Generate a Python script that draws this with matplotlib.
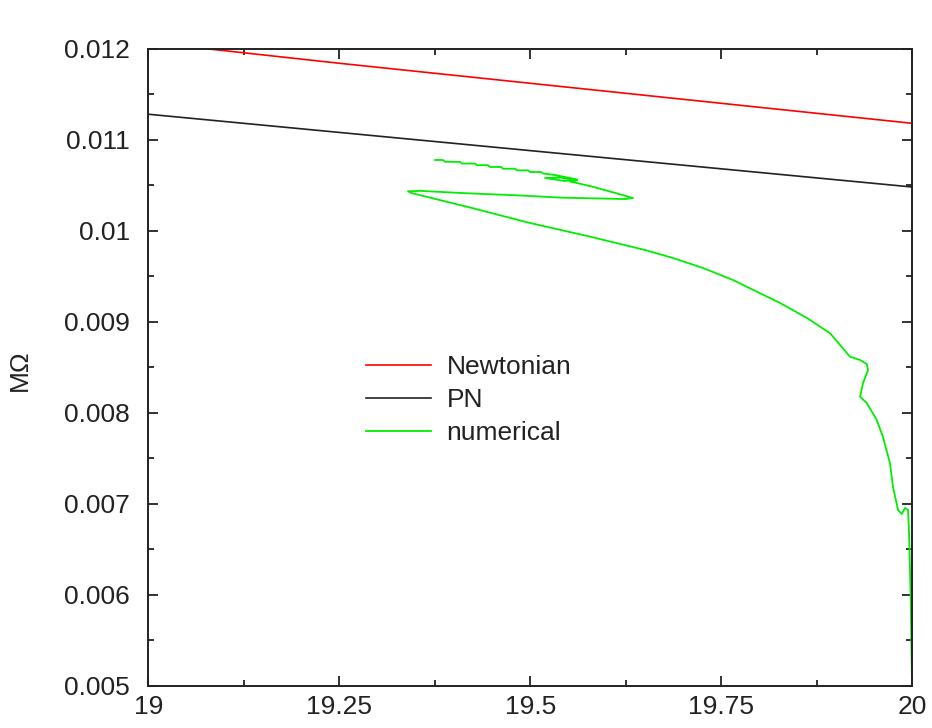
import matplotlib
matplotlib.use("Agg")
import matplotlib.pyplot as plt
from matplotlib.ticker import MultipleLocator

# font: Helvetica-like
plt.rcParams['font.family'] = ['Liberation Sans', 'DejaVu Sans']

# analytic curves
r_vals = [19.0, 19.25, 19.5, 19.75, 20.0]
newtonian = [0.01207, 0.01184, 0.01162, 0.01140, 0.01118]
pn = [0.01128, 0.01108, 0.01088, 0.01068, 0.01048]

# numerical orbit (x = separation, y = M*Omega)
num_x = [19.3753, 19.3857, 19.3884, 19.4080, 19.4106, 19.4276, 19.4302, 19.4446,
         19.4473, 19.4617, 19.4643, 19.4800, 19.4826, 19.4970, 19.4996, 19.5140,
         19.5166, 19.5323, 19.5611, 19.5454, 19.5192, 19.5389, 19.5611, 19.5520,
         19.5781, 19.6043, 19.6344, 19.6240, 19.5912, 19.5415, 19.4865, 19.4106,
         19.3556, 19.3399, 19.3452, 19.4211, 19.4970, 19.5781, 19.6501, 19.6868,
         19.7260, 19.7653, 19.8268, 19.8623, 19.8923, 19.9185, 19.9316, 19.9403, 19.9420,
         19.9355, 19.9316, 19.9403, 19.9534, 19.9616, 19.9707, 19.9747, 19.9813,
         19.9861, 19.9905, 19.9944, 19.9957, 19.9979, 19.9996]
num_y = [0.010777, 0.010777, 0.010757, 0.010757, 0.010738, 0.010738, 0.010720, 0.010720,
         0.010700, 0.010700, 0.010681, 0.010681, 0.010663, 0.010663, 0.010645, 0.010645,
         0.010629, 0.010612, 0.010563, 0.010546, 0.010579, 0.010585, 0.010552, 0.010541,
         0.010491, 0.010431, 0.010359, 0.010348, 0.010354, 0.010363, 0.010387, 0.010414,
         0.010438, 0.010433, 0.010412, 0.010255, 0.010090, 0.009935, 0.009788, 0.009700,
         0.009590, 0.009458, 0.009206, 0.009040, 0.008873, 0.008615, 0.008579, 0.008535, 0.008469,
         0.008326, 0.008176, 0.008107, 0.007920, 0.007733, 0.007447, 0.007184, 0.006931,
         0.006887, 0.006953, 0.006931, 0.006678, 0.005942, 0.005000]

fig = plt.figure(figsize=(9.32, 7.28), dpi=100)
ax = fig.add_axes([0.1591, 0.0581, 0.8198, 0.8750])

ax.plot(r_vals, newtonian, color='#ff0000', lw=1.2, label='Newtonian')
ax.plot(r_vals, pn, color='#222222', lw=1.2, label='PN')
ax.plot(num_x, num_y, color='#00ee00', lw=1.3, label='numerical')

ax.set_xlim(19, 20)
ax.set_ylim(0.005, 0.012)
ax.set_xticks([19, 19.25, 19.5, 19.75, 20])
ax.set_xticklabels(['19', '19.25', '19.5', '19.75', '20'])
ax.set_yticks([0.005, 0.006, 0.007, 0.008, 0.009, 0.01, 0.011, 0.012])
ax.set_yticklabels(['0.005', '0.006', '0.007', '0.008', '0.009', '0.01', '0.011', '0.012'])
ax.xaxis.set_minor_locator(MultipleLocator(0.125))
ax.yaxis.set_minor_locator(MultipleLocator(0.0005))

ax.tick_params(which='both', direction='in', top=True, right=True, colors='#222222',
               width=1.3, labelsize=19)
ax.tick_params(which='major', length=7.5)
ax.tick_params(which='minor', length=4.5)
ax.tick_params(axis='y', which='major', pad=13)
ax.tick_params(axis='x', which='major', pad=7)
for s in ax.spines.values():
    s.set_linewidth(1.4)
    s.set_color('#222222')

ax.set_ylabel('MΩ', fontsize=19, color='#222222', va='center')
ax.yaxis.set_label_coords(-0.168, 0.496)

ax.legend(loc='upper left', bbox_to_anchor=(0.285, 0.519), frameon=False, fontsize=19,
          handlelength=2.45, handletextpad=0.6, labelspacing=0.34, borderpad=0,
          borderaxespad=0, labelcolor='#222222')

fig.savefig('out.png', dpi=100)
